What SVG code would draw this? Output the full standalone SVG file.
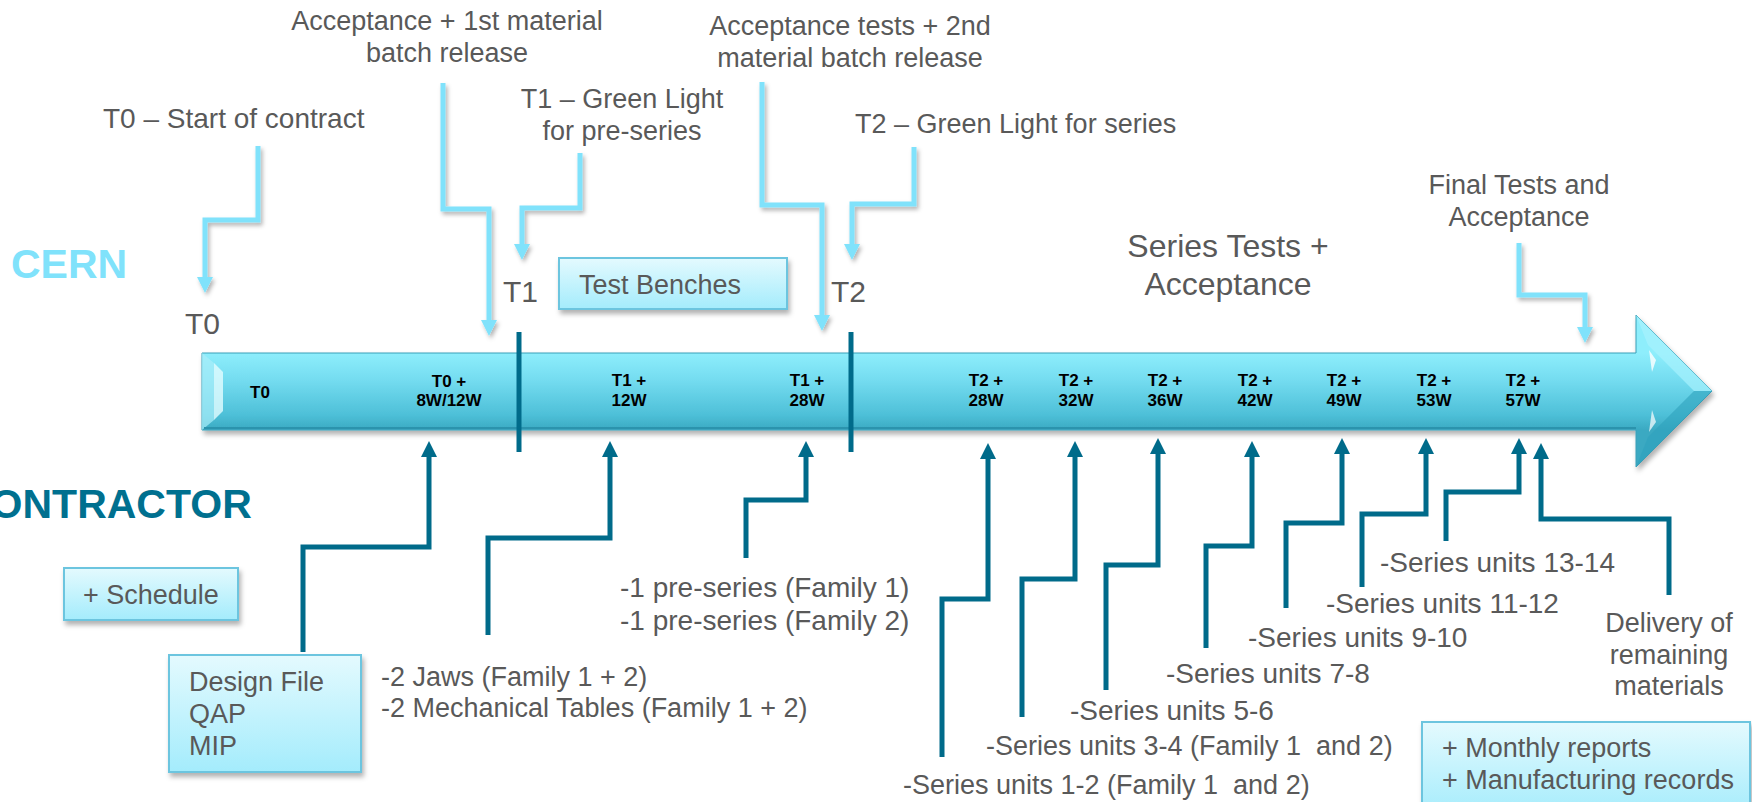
<svg xmlns="http://www.w3.org/2000/svg" width="1752" height="802" viewBox="0 0 1752 802">
<defs>
<style>
text{font-family:"Liberation Sans",Arial,sans-serif;fill:#595959;font-size:27px;white-space:pre}
.big{font-size:28px}
.bar{font-weight:bold;fill:#000;font-size:17px;text-anchor:middle}
.mid{text-anchor:middle}
.box{fill:url(#boxg);stroke:#6cc5df;stroke-width:2}
.lc{fill:none;stroke:#80e2fb;stroke-width:5;marker-end:url(#la)}
.dc{fill:none;stroke:#006b8a;stroke-width:5;marker-end:url(#da)}
.tick{stroke:#006b8a;stroke-width:5}
</style>
<linearGradient id="barg" gradientUnits="userSpaceOnUse" x1="0" y1="353" x2="0" y2="430">
<stop offset="0" stop-color="#8eeefc"/>
<stop offset="0.35" stop-color="#74dcf0"/>
<stop offset="0.8" stop-color="#4ec0d8"/>
<stop offset="1" stop-color="#3aa9c2"/>
</linearGradient>
<linearGradient id="boxg" x1="0" y1="0" x2="0" y2="1">
<stop offset="0" stop-color="#e4fafe"/>
<stop offset="1" stop-color="#a4ecfc"/>
</linearGradient>
<filter id="sh" x="-10%" y="-10%" width="130%" height="140%">
<feDropShadow dx="2" dy="4" stdDeviation="2.5" flood-color="#000" flood-opacity="0.3"/>
</filter>
<filter id="shl" x="-20%" y="-20%" width="140%" height="140%">
<feDropShadow dx="2" dy="3" stdDeviation="2" flood-color="#000" flood-opacity="0.3"/>
</filter>
<marker id="la" markerUnits="userSpaceOnUse" markerWidth="18" markerHeight="18" refX="3" refY="8" orient="auto">
<path d="M0,0 L16,8 L0,16 Z" fill="#80e2fb"/>
</marker>
<marker id="da" markerUnits="userSpaceOnUse" markerWidth="18" markerHeight="18" refX="3" refY="8" orient="auto">
<path d="M0,0 L16,8 L0,16 Z" fill="#006b8a"/>
</marker>
</defs>
<rect width="1752" height="802" fill="#fff"/>

<g id="timeline">
<path d="M202,353 H1636 V315 L1712,391 L1636,467 V430 H202 Z" fill="url(#barg)" stroke="#3a9fb8" stroke-width="1" filter="url(#sh)"/>
<path d="M202,353 L214,363 L214,420 L202,430 Z" fill="#a9eefa" opacity="0.7"/>
<path d="M214,363 L223,372 L223,411 L214,420 Z" fill="#e4fdff" opacity="0.8"/>
<path d="M1636,315 L1712,391 L1694,391 L1648,345 Z" fill="#a8f2fd" opacity="0.7"/>
<path d="M1636,467 L1712,391 L1694,391 L1648,437 Z" fill="#2fa2bd" opacity="0.6"/>
<path d="M1649,350 L1656,360 L1652,372 Z" fill="#ffffff" opacity="0.8"/>
<path d="M1649,432 L1656,422 L1652,410 Z" fill="#ffffff" opacity="0.7"/>
<line x1="204" y1="428" x2="1636" y2="428" stroke="#2b93ad" stroke-width="2"/>
<line class="tick" x1="519" y1="332" x2="519" y2="452"/>
<line class="tick" x1="851" y1="332" x2="851" y2="452"/>
<text class="bar" x="260" y="398">T0</text>
<text class="bar" x="449" y="387">T0 +</text><text class="bar" x="449" y="406">8W/12W</text>
<text class="bar" x="629" y="386">T1 +</text><text class="bar" x="629" y="406">12W</text>
<text class="bar" x="807" y="386">T1 +</text><text class="bar" x="807" y="406">28W</text>
<text class="bar" x="986" y="386">T2 +</text><text class="bar" x="986" y="406">28W</text>
<text class="bar" x="1076" y="386">T2 +</text><text class="bar" x="1076" y="406">32W</text>
<text class="bar" x="1165" y="386">T2 +</text><text class="bar" x="1165" y="406">36W</text>
<text class="bar" x="1255" y="386">T2 +</text><text class="bar" x="1255" y="406">42W</text>
<text class="bar" x="1344" y="386">T2 +</text><text class="bar" x="1344" y="406">49W</text>
<text class="bar" x="1434" y="386">T2 +</text><text class="bar" x="1434" y="406">53W</text>
<text class="bar" x="1523" y="386">T2 +</text><text class="bar" x="1523" y="406">57W</text>
</g>

<g id="connectors">
<g filter="url(#shl)">
<path class="lc" d="M258,146 V220 H205 V280"/>
<path class="lc" d="M443,83 V209 H489 V323"/>
<path class="lc" d="M580,153 V208 H522 V247"/>
<path class="lc" d="M762,82 V205 H822 V318"/>
<path class="lc" d="M914,147 V204 H852 V247"/>
<path class="lc" d="M1519,243 V295 H1585 V330"/>
</g>
<path class="dc" d="M303,652 V547 H429 V454"/>
<path class="dc" d="M488,635 V538 H610 V454"/>
<path class="dc" d="M746,558 V500 H806 V454"/>
<path class="dc" d="M942,757 V599 H988 V456"/>
<path class="dc" d="M1022,717 V579 H1075 V454"/>
<path class="dc" d="M1106,690 V565 H1158 V451"/>
<path class="dc" d="M1206,648 V546 H1252 V454"/>
<path class="dc" d="M1286,608 V523 H1342 V451"/>
<path class="dc" d="M1362,587 V514 H1426 V451"/>
<path class="dc" d="M1446,541 V492 H1519 V451"/>
<path class="dc" d="M1669,595 V519 H1541 V456"/>
</g>

<g id="lane-labels">
<text x="11" y="278" style="font-weight:bold;font-size:41px;fill:#80e2fb">CERN</text>
<text x="-39" y="518" style="font-weight:bold;font-size:41px;fill:#00708f">CONTRACTOR</text>
</g>

<g id="milestones">
<text x="185" y="334" style="font-size:30px">T0</text>
<text x="503" y="302" style="font-size:30px">T1</text>
<text x="831" y="302" style="font-size:30px">T2</text>
</g>

<g id="cern-labels">
<text class="mid" x="447" y="30">Acceptance + 1st material</text>
<text class="mid" x="447" y="62">batch release</text>
<text class="big" x="103" y="128">T0 – Start of contract</text>
<text class="mid" x="622" y="108">T1 – Green Light</text>
<text class="mid" x="622" y="140">for pre-series</text>
<text class="mid" x="850" y="35">Acceptance tests + 2nd</text>
<text class="mid" x="850" y="67">material batch release</text>
<text x="855" y="133">T2 – Green Light for series</text>
<text class="mid" x="1519" y="194">Final Tests and</text>
<text class="mid" x="1519" y="226">Acceptance</text>
<text class="mid" x="1228" y="257" style="font-size:32px">Series Tests +</text>
<text class="mid" x="1228" y="295" style="font-size:32px">Acceptance</text>
</g>

<g id="test-benches">
<rect class="box" x="559" y="258" width="228" height="51" filter="url(#sh)"/>
<text x="579" y="294">Test Benches</text>
</g>
<g id="schedule">
<rect class="box" x="64" y="568" width="174" height="52" filter="url(#sh)"/>
<text x="83" y="604">+ Schedule</text>
</g>
<g id="design-file">
<rect class="box" x="169" y="655" width="192" height="117" filter="url(#sh)"/>
<text x="189" y="691">Design File</text>
<text x="189" y="723">QAP</text>
<text x="189" y="755">MIP</text>
</g>
<g id="reports">
<rect class="box" x="1422" y="722" width="328" height="95" filter="url(#sh)"/>
<text x="1442" y="757">+ Monthly reports</text>
<text x="1442" y="789">+ Manufacturing records</text>
</g>

<g id="contractor-labels">
<text x="381" y="686">-2 Jaws (Family 1 + 2)</text>
<text x="381" y="717">-2 Mechanical Tables (Family 1 + 2)</text>
<text class="big" x="620" y="597">-1 pre-series (Family 1)</text>
<text class="big" x="620" y="630">-1 pre-series (Family 2)</text>
<text x="903" y="794">-Series units 1-2 (Family 1  and 2)</text>
<text x="986" y="755">-Series units 3-4 (Family 1  and 2)</text>
<text class="big" x="1070" y="720">-Series units 5-6</text>
<text class="big" x="1166" y="683">-Series units 7-8</text>
<text class="big" x="1248" y="647">-Series units 9-10</text>
<text class="big" x="1326" y="613">-Series units 11-12</text>
<text class="big" x="1380" y="572">-Series units 13-14</text>
<text class="mid" x="1669" y="632">Delivery of</text>
<text class="mid" x="1669" y="664">remaining</text>
<text class="mid" x="1669" y="695">materials</text>
</g>
</svg>
